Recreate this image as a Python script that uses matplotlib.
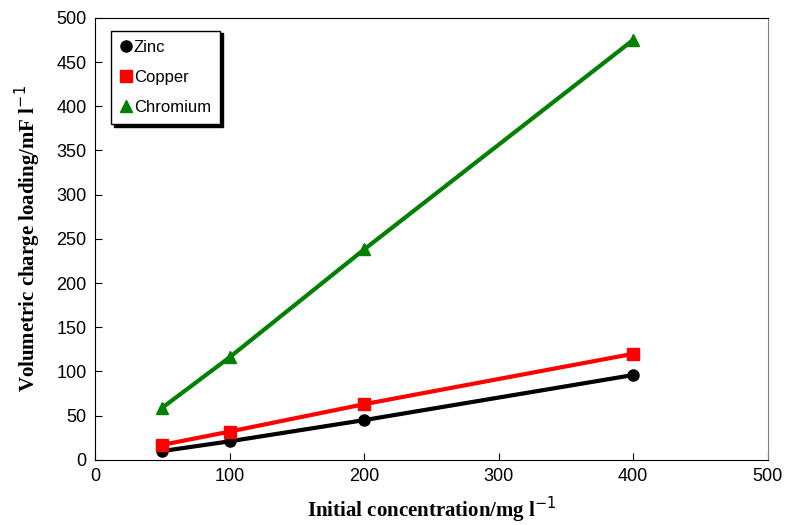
import matplotlib
matplotlib.use('Agg')
import matplotlib.pyplot as plt

conc = [50, 100, 200, 400]
zinc = [10, 21, 45, 96]
copper = [17, 32, 63, 120]
chromium = [59, 116, 238, 475]

plt.rcParams['font.family'] = 'Liberation Sans'
fig = plt.figure(figsize=(7.85, 5.25), dpi=100)
ax = fig.add_axes([0.121, 0.124, 0.857, 0.842])

ax.plot(conc, zinc, color='black', lw=3, marker='o', ms=8, label='Zinc')
ax.plot(conc, copper, color='red', lw=3, marker='s', ms=8, label='Copper')
ax.plot(conc, chromium, color='green', lw=3, marker='^', ms=9, label='Chromium')

ax.set_xlim(0, 500)
ax.set_ylim(0, 500)
ax.set_xticks(range(0, 501, 100))
ax.set_yticks(range(0, 501, 50))
ax.tick_params(direction='in', length=5, labelsize=13, pad=6)
ax.spines['right'].set_color('gray')

ax.set_xlabel('Initial concentration/mg l$^{-1}$', family='Liberation Serif',
              fontweight='bold', fontsize=15, labelpad=7)
ax.set_ylabel('Volumetric charge loading/mF l$^{-1}$', family='Liberation Serif',
              fontweight='bold', fontsize=15, labelpad=10)

leg = ax.legend(loc='upper left', bbox_to_anchor=(0.012, 0.99), fontsize=12,
                handlelength=0.6, handletextpad=0.2, borderpad=0.55, labelspacing=0.9,
                fancybox=False, shadow={'color': 'black', 'alpha': 1},
                edgecolor='black', framealpha=1)
for h in leg.legend_handles:
    h.set_linestyle('none')

fig.savefig('out.png', dpi=100)
